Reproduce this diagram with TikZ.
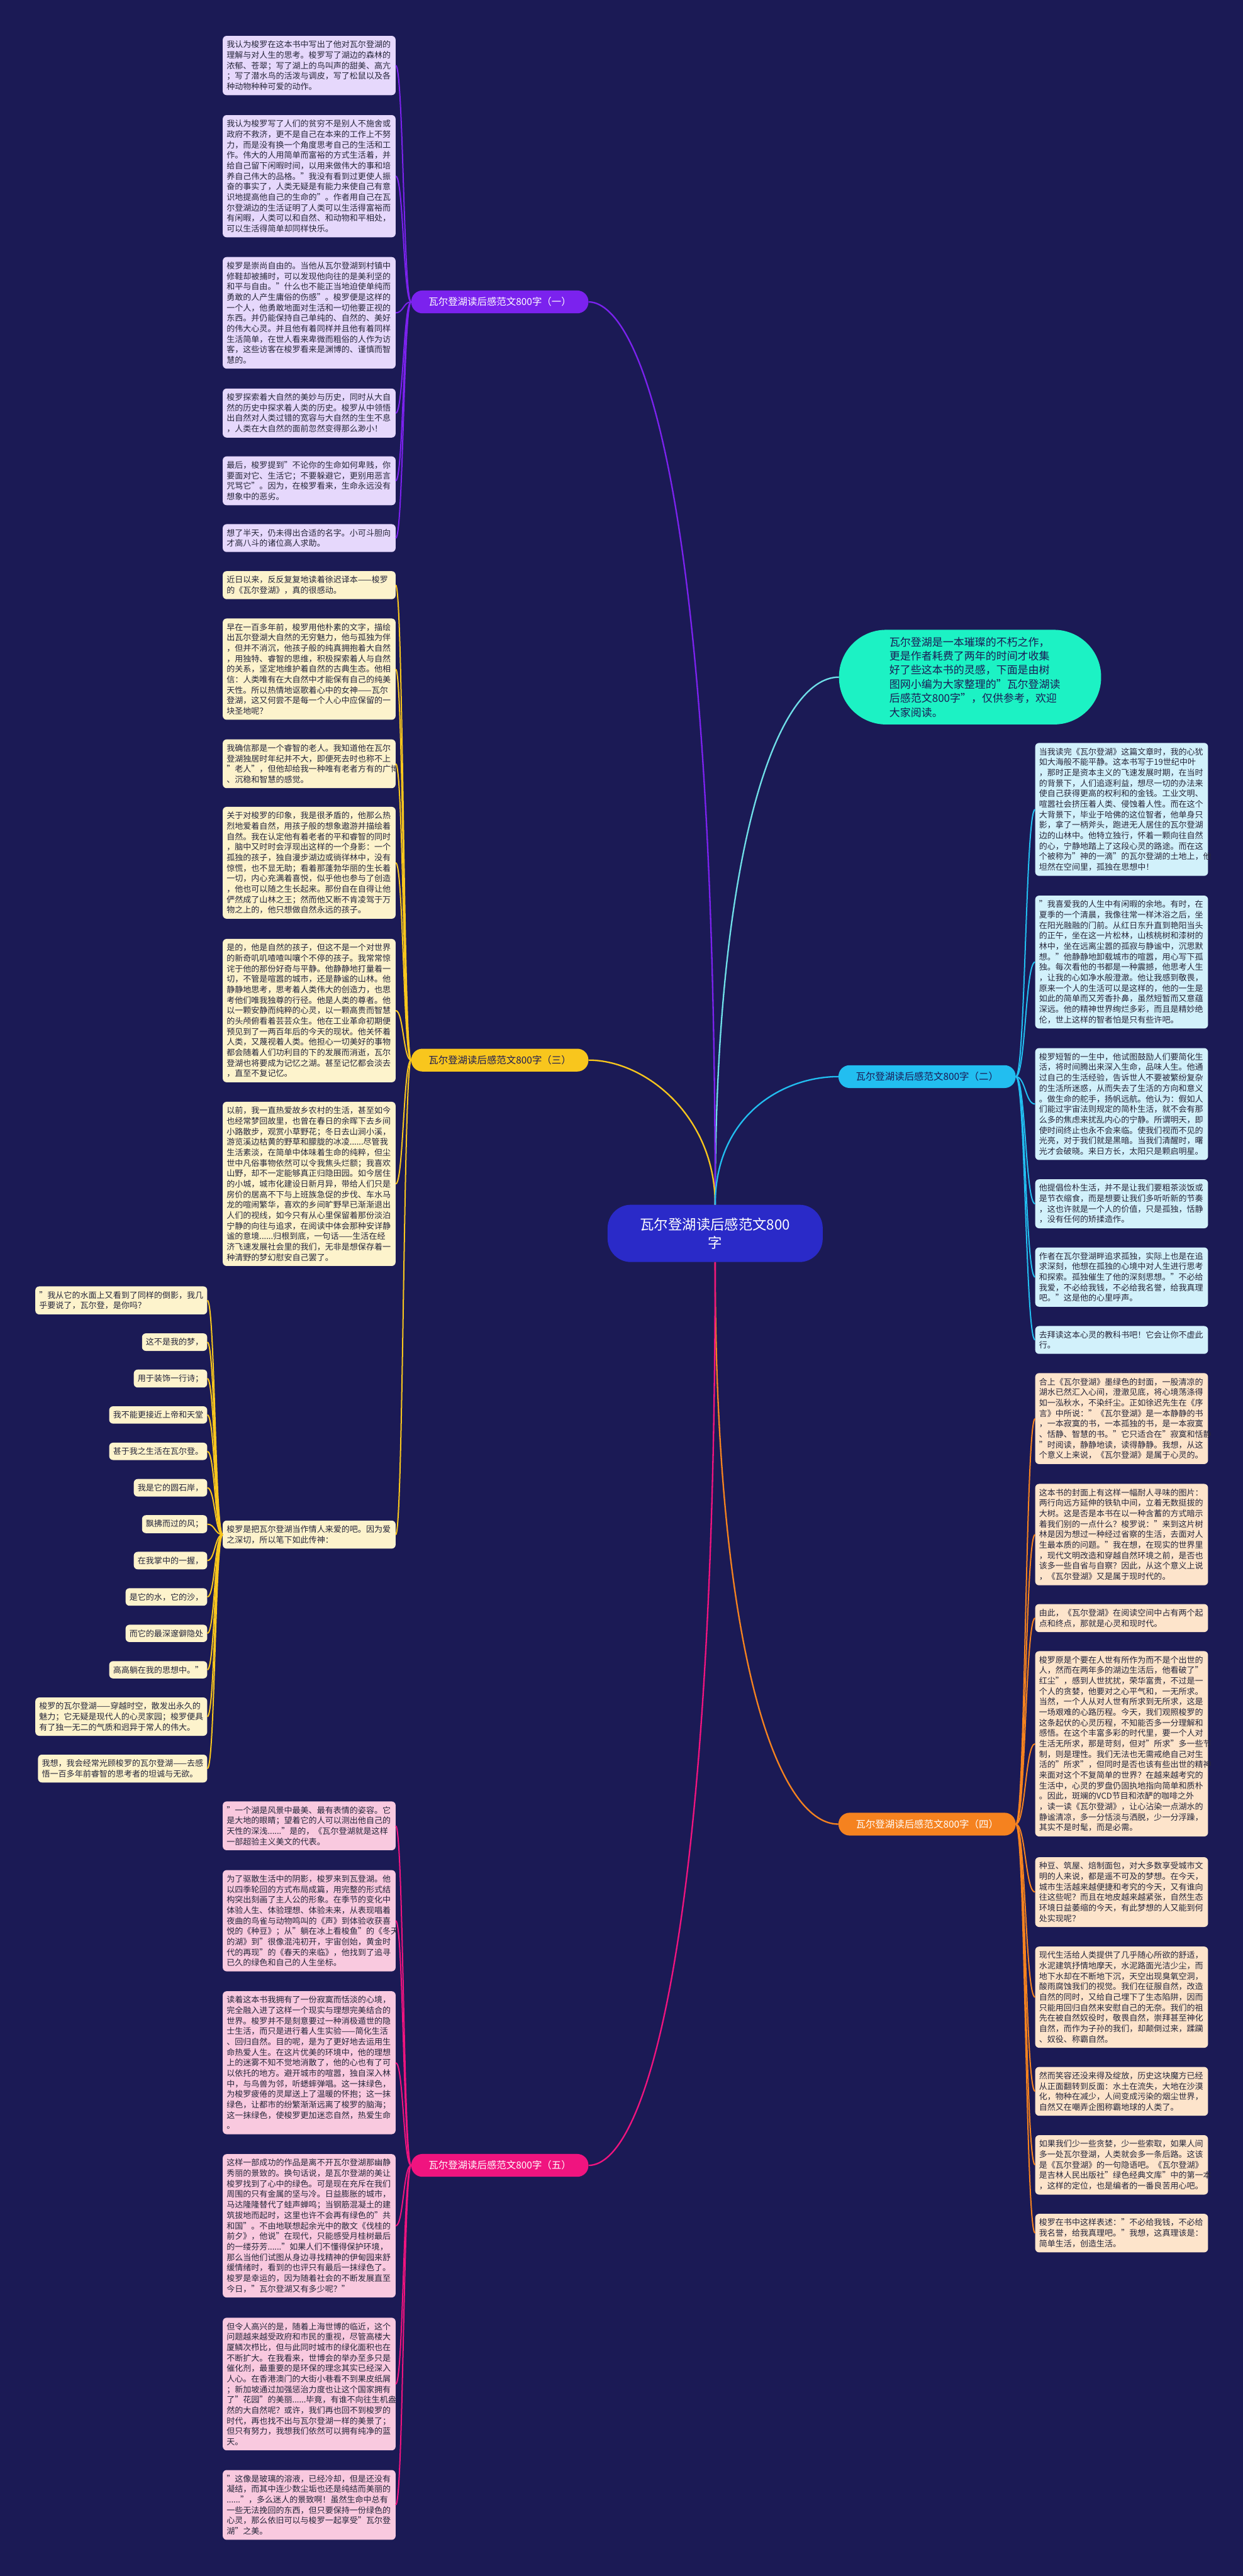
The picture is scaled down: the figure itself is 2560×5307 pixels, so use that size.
\documentclass[tikz,border=0pt]{standalone}
\usepackage{fontspec}
\setmainfont{Noto Sans CJK SC}
\definecolor{navybg}{HTML}{1B1A55}
\definecolor{rootfill}{HTML}{2A2AC8}
\definecolor{introfill}{HTML}{1CF2C4}
\definecolor{introline}{HTML}{6FDFE8}
\definecolor{inkdark}{HTML}{26263A}
\definecolor{purplelab}{HTML}{7B22EE}
\definecolor{purplecard}{HTML}{E6D8FC}
\definecolor{yellowlab}{HTML}{F8C61D}
\definecolor{yellowcard}{HTML}{FDF3CC}
\definecolor{pinklab}{HTML}{F0147F}
\definecolor{pinkcard}{HTML}{F9C9DF}
\definecolor{skylab}{HTML}{22BEF0}
\definecolor{skycard}{HTML}{D2F1FB}
\definecolor{orangelab}{HTML}{F5821F}
\definecolor{orangecard}{HTML}{FDE4CB}

\begin{document}
\begin{tikzpicture}[x=1pt,y=-1pt,
 boxtext/.style={rounded corners=8pt,align=left,inner xsep=8pt,inner ysep=10pt,text=inkdark,font=\fontsize{16.9}{21.6}\selectfont},
 card/.style={boxtext,text width=340pt},
 leaf/.style={boxtext,fill=yellowcard,anchor=east},
 branch/.style={rounded corners=23pt,minimum height=47pt,minimum width=365pt,inner sep=0pt,font=\fontsize{20}{24}\selectfont},
 link/.style={line width=2.6pt},
 trunk/.style={line width=3pt}]
\useasboundingbox (0,0) rectangle (2560,5307);
\fill[navybg] (0,0) rectangle (2560,5307);

% centre and intro
\node[fill=rootfill,text=white,rounded corners=48pt,minimum width=443pt,minimum height=118pt,align=center,font=\fontsize{29}{38}\selectfont] (root) at (1473,2541) {瓦尔登湖读后感范文800\\字};
\node[fill=introfill,text=navybg,rounded corners=97pt,minimum width=540pt,minimum height=195pt,text width=332pt,align=left,font=\fontsize{22}{29}\selectfont] (intro) at (1998,1395) {瓦尔登湖是一本璀璨的不朽之作，\\更是作者耗费了两年的时间才收集\\好了些这本书的灵感，下面是由树\\图网小编为大家整理的"瓦尔登湖读\\后感范文800字"，仅供参考，欢迎\\大家阅读。};

% branch labels
\node[branch,fill=purplelab,text=white] (br1) at (1029.5,622) {瓦尔登湖读后感范文800字（一）};
\node[branch,fill=yellowlab,text=navybg] (br3) at (1029.5,2184) {瓦尔登湖读后感范文800字（三）};
\node[branch,fill=pinklab,text=white] (br5) at (1029.5,4461) {瓦尔登湖读后感范文800字（五）};
\node[branch,fill=skylab,text=navybg] (br2) at (1909.5,2218) {瓦尔登湖读后感范文800字（二）};
\node[branch,fill=orangelab,text=white] (br4) at (1909.5,3758) {瓦尔登湖读后感范文800字（四）};

% branch one
\node[card,fill=purplecard,anchor=east] (c1a) at (815,135) {我认为梭罗在这本书中写出了他对瓦尔登湖的\\理解与对人生的思考。梭罗写了湖边的森林的\\浓郁、苍翠；写了湖上的鸟叫声的甜美、高亢\\；写了潜水鸟的活泼与调皮，写了松鼠以及各\\种动物种种可爱的动作。};
\node[card,fill=purplecard,anchor=east] (c1b) at (815,363) {我认为梭罗写了人们的贫穷不是别人不施舍或\\政府不救济，更不是自己在本来的工作上不努\\力，而是没有换一个角度思考自己的生活和工\\作。伟大的人用简单而富裕的方式生活着，并\\给自己留下闲暇时间，以用来做伟大的事和培\\养自己伟大的品格。"我没有看到过更使人振\\奋的事实了，人类无疑是有能力来使自己有意\\识地提高他自己的生命的"。作者用自己在瓦\\尔登湖边的生活证明了人类可以生活得富裕而\\有闲暇，人类可以和自然、和动物和平相处，\\可以生活得简单却同样快乐。};
\node[card,fill=purplecard,anchor=east] (c1c) at (815,644.5) {梭罗是崇尚自由的。当他从瓦尔登湖到村镇中\\修鞋却被捕时，可以发现他向往的是美利坚的\\和平与自由。"什么也不能正当地迫使单纯而\\勇敢的人产生庸俗的伤感"。梭罗便是这样的\\一个人，他勇敢地面对生活和一切他要正视的\\东西。并仍能保持自己单纯的、自然的、美好\\的伟大心灵。并且他有着同样并且他有着同样\\生活简单，在世人看来卑微而粗俗的人作为访\\客，这些访客在梭罗看来是渊博的、谨慎而智\\慧的。};
\node[card,fill=purplecard,anchor=east] (c1d) at (815,851) {梭罗探索着大自然的美妙与历史，同时从大自\\然的历史中探求着人类的历史。梭罗从中领悟\\出自然对人类过错的宽容与大自然的生生不息\\，人类在大自然的面前忽然变得那么渺小！};
\node[card,fill=purplecard,anchor=east] (c1e) at (815,990.5) {最后，梭罗提到"不论你的生命如何卑贱，你\\要面对它、生活它；不要躲避它，更别用恶言\\咒骂它"。因为，在梭罗看来，生命永远没有\\想象中的恶劣。};
\node[card,fill=purplecard,anchor=east] (c1f) at (815,1108.5) {想了半天，仍未得出合适的名字。小可斗胆向\\才高八斗的诸位高人求助。};

% branch three
\node[card,fill=yellowcard,anchor=east] (c3a) at (815,1205.5) {近日以来，反反复复地读着徐迟译本——梭罗\\的《瓦尔登湖》，真的很感动。};
\node[card,fill=yellowcard,anchor=east] (c3b) at (815,1378.5) {早在一百多年前，梭罗用他朴素的文字，描绘\\出瓦尔登湖大自然的无穷魅力，他与孤独为伴\\，但并不消沉，他孩子般的纯真拥抱着大自然\\，用独特、睿智的思维，积极探索着人与自然\\的关系，坚定地维护着自然的古典生态。他相\\信：人类唯有在大自然中才能保有自己的纯美\\天性。所以热情地讴歌着心中的女神——瓦尔\\登湖，这又何尝不是每一个人心中应保留的一\\块圣地呢？};
\node[card,fill=yellowcard,anchor=east] (c3c) at (815,1573.5) {我确信那是一个睿智的老人。我知道他在瓦尔\\登湖独居时年纪并不大，即便死去时也称不上\\"老人"，但他却给我一种唯有老者方有的广博\\、沉稳和智慧的感觉。};
\node[card,fill=yellowcard,anchor=east] (c3d) at (815,1777.5) {关于对梭罗的印象，我是很矛盾的，他那么热\\烈地爱着自然，用孩子般的想象遨游并描绘着\\自然。我在认定他有着老者的平和睿智的同时\\，脑中又时时会浮现出这样的一个身影：一个\\孤独的孩子，独自漫步湖边或徜徉林中，没有\\惊慌，也不显无助；看着那蓬勃华丽的生长着\\一切，内心充满着喜悦，似乎他也参与了创造\\，他也可以随之生长起来。那份自在自得让他\\俨然成了山林之王；然而他又断不肯凌驾于万\\物之上的，他只想做自然永远的孩子。};
\node[card,fill=yellowcard,anchor=east] (c3e) at (815,2082) {是的，他是自然的孩子，但这不是一个对世界\\的新奇叽叽喳喳叫嚷个不停的孩子。我常常惊\\诧于他的那份好奇与平静。他静静地打量着一\\切，不管是喧嚣的城市，还是静谧的山林。他\\静静地思考，思考着人类伟大的创造力，也思\\考他们唯我独尊的行径。他是人类的尊者。他\\以一颗安静而纯粹的心灵，以一颗高贵而智慧\\的头颅俯看着芸芸众生。他在工业革命初期便\\预见到了一两百年后的今天的现状。他关怀着\\人类，又蔑视着人类。他担心一切美好的事物\\都会随着人们功利目的下的发展而消逝，瓦尔\\登湖也将要成为记忆之湖。甚至记忆都会淡去\\，直至不复记忆。};
\node[card,fill=yellowcard,anchor=east] (c3f) at (815,2439) {以前，我一直热爱故乡农村的生活，甚至如今\\也经常梦回故里，也曾在春日的余晖下去乡间\\小路散步，观赏小草野花；冬日去山涧小溪，\\游览溪边枯黄的野草和朦胧的冰凌......尽管我\\生活素淡，在简单中体味着生命的纯粹，但尘\\世中凡俗事物依然可以令我焦头烂额；我喜欢\\山野，却不一定能够真正归隐田园。如今居住\\的小城，城市化建设日新月异，带给人们只是\\房价的居高不下与上班族急促的步伐、车水马\\龙的喧闹繁华，喜欢的乡间旷野早已渐渐退出\\人们的视线，如今只有从心里保留着那份淡泊\\宁静的向往与追求，在阅读中体会那种安详静\\谧的意境......归根到底，一句话——生活在经\\济飞速发展社会里的我们，无非是想保存着一\\种清野的梦幻慰安自己罢了。};
\node[card,fill=yellowcard,anchor=east] (c3g) at (815,3161.5) {梭罗是把瓦尔登湖当作情人来爱的吧。因为爱\\之深切，所以笔下如此传神：};

% lines of the poem
\node[leaf] (p1) at (427,2679) {"我从它的水面上又看到了同样的倒影，我几\\乎要说了，瓦尔登，是你吗？};
\node[leaf] (p2) at (427,2765) {这不是我的梦，};
\node[leaf] (p3) at (427,2840) {用于装饰一行诗；};
\node[leaf] (p4) at (427,2915) {我不能更接近上帝和天堂};
\node[leaf] (p5) at (427,2990) {甚于我之生活在瓦尔登。};
\node[leaf] (p6) at (427,3065) {我是它的圆石岸，};
\node[leaf] (p7) at (427,3140) {飘拂而过的风；};
\node[leaf] (p8) at (427,3215) {在我掌中的一握，};
\node[leaf] (p9) at (427,3290) {是它的水，它的沙，};
\node[leaf] (p10) at (427,3365) {而它的最深邃僻隐处};
\node[leaf] (p11) at (427,3440) {高高躺在我的思想中。"};
\node[leaf] (p12) at (427,3536.5) {梭罗的瓦尔登湖——穿越时空，散发出永久的\\魅力；它无疑是现代人的心灵家园；梭罗便具\\有了独一无二的气质和迥异于常人的伟大。};
\node[leaf] (p13) at (427,3643.5) {我想，我会经常光顾梭罗的瓦尔登湖——去感\\悟一百多年前睿智的思考者的坦诚与无欲。};

% branch five
\node[card,fill=pinkcard,anchor=east] (c5a) at (815,3761.5) {"一个湖是风景中最美、最有表情的姿容。它\\是大地的眼睛；望着它的人可以测出他自己的\\天性的深浅......"是的，《瓦尔登湖就是这样\\一部超验主义美文的代表。};
\node[card,fill=pinkcard,anchor=east] (c5b) at (815,3957) {为了驱散生活中的阴影，梭罗来到瓦登湖。他\\以四季轮回的方式布局成篇，用完整的形式结\\构突出刻画了主人公的形象。在季节的变化中\\体验人生、体验理想、体验未来，从表现唱着\\夜曲的鸟雀与动物鸣叫的《声》到体验收获喜\\悦的《种豆》；从"躺在冰上看梭鱼"的《冬天\\的湖》到"很像混沌初开，宇宙创始，黄金时\\代的再现"的《春天的来临》，他找到了追寻\\已久的绿色和自己的人生坐标。};
\node[card,fill=pinkcard,anchor=east] (c5c) at (815,4249.5) {读着这本书我拥有了一份寂寞而恬淡的心境，\\完全融入进了这样一个现实与理想完美结合的\\世界。梭罗并不是刻意要过一种消极遁世的隐\\士生活，而只是进行着人生实验——简化生活\\、回归自然。目的呢，是为了更好地去运用生\\命热爱人生。在这片优美的环境中，他的理想\\上的迷雾不知不觉地消散了，他的心也有了可\\以依托的地方。避开城市的喧嚣，独自深入林\\中，与鸟兽为邻，听蟋蟀弹唱。这一抹绿色，\\为梭罗疲倦的灵犀送上了温暖的怀抱；这一抹\\绿色，让都市的纷繁渐渐远离了梭罗的脑海；\\这一抹绿色，使梭罗更加迷恋自然，热爱生命\\。};
\node[card,fill=pinkcard,anchor=east] (c5d) at (815,4585.5) {这样一部成功的作品是离不开瓦尔登湖那幽静\\秀丽的景致的。换句话说，是瓦尔登湖的美让\\梭罗找到了心中的绿色。可是现在充斥在我们\\周围的只有金属的坚与冷。日益膨胀的城市，\\马达隆隆替代了蛙声蝉鸣；当钢筋混凝土的建\\筑拔地而起时，这里也许不会再有绿色的"共\\和国"。不由地联想起余光中的散文《伐桂的\\前夕》，他说"在现代，只能感受月桂树最后\\的一缕芬芳......"如果人们不懂得保护环境，\\那么当他们试图从身边寻找精神的伊甸园来舒\\缓情绪时，看到的也评只有最后一抹绿色了。\\梭罗是幸运的，因为随着社会的不断发展直至\\今日，"瓦尔登湖又有多少呢？"};
\node[card,fill=pinkcard,anchor=east] (c5e) at (815,4911.5) {但令人高兴的是，随着上海世博的临近，这个\\问题越来越受政府和市民的重视，尽管高楼大\\厦鳞次栉比，但与此同时城市的绿化面积也在\\不断扩大。在我看来，世博会的举办至多只是\\催化剂，最重要的是环保的理念其实已经深入\\人心。在香港澳门的大街小巷看不到果皮纸屑\\；新加坡通过加强惩治力度也让这个国家拥有\\了"花园"的美丽......毕竟，有谁不向往生机盎\\然的大自然呢？或许，我们再也回不到梭罗的\\时代，再也找不出与瓦尔登湖一样的美景了；\\但只有努力，我想我们依然可以拥有纯净的蓝\\天。};
\node[card,fill=pinkcard,anchor=east] (c5f) at (815,5160.5) {"这像是玻璃的溶液，已经冷却，但是还没有\\凝结，而其中连少数尘垢也还是纯结而美丽的\\......"，多么迷人的景致啊！虽然生命中总有\\一些无法挽回的东西，但只要保持一份绿色的\\心灵，那么依旧可以与梭罗一起享受"瓦尔登\\湖"之美。};

% branch two
\node[card,fill=skycard,anchor=west] (c2a) at (2132,1667.5) {当我读完《瓦尔登湖》这篇文章时，我的心犹\\如大海般不能平静。这本书写于19世纪中叶\\，那时正是资本主义的飞速发展时期，在当时\\的背景下，人们追逐利益，想尽一切的办法来\\使自己获得更高的权利和的金钱。工业文明、\\喧嚣社会挤压着人类、侵蚀着人性。而在这个\\大背景下，毕业于哈佛的这位智者，他单身只\\影，拿了一柄斧头，跑进无人居住的瓦尔登湖\\边的山林中。他特立独行，怀着一颗向往自然\\的心，宁静地踏上了这段心灵的路途。而在这\\个被称为"神的一滴"的瓦尔登湖的土地上，他\\坦然在空间里，孤独在思想中！};
\node[card,fill=skycard,anchor=west] (c2b) at (2132,1982) {"我喜爱我的人生中有闲暇的余地。有时，在\\夏季的一个清晨，我像往常一样沐浴之后，坐\\在阳光融融的门前。从红日东升直到艳阳当头\\的正午，坐在这一片松林，山核桃树和漆树的\\林中，坐在远离尘嚣的孤寂与静谧中，沉思默\\想。"他静静地卸载城市的喧嚣，用心写下孤\\独。每次看他的书都是一种震撼，他思考人生\\，让我的心如净水般澄澈。他让我感到敬畏，\\原来一个人的生活可以是这样的，他的一生是\\如此的简单而又芳香扑鼻，虽然短暂而又意蕴\\深远。他的精神世界绚烂多彩，而且是精妙绝\\伦，世上这样的智者怕是只有些许吧。};
\node[card,fill=skycard,anchor=west] (c2c) at (2132,2274.5) {梭罗短暂的一生中，他试图鼓励人们要简化生\\活，将时间腾出来深入生命，品味人生。他通\\过自己的生活经验，告诉世人不要被繁纷复杂\\的生活所迷惑，从而失去了生活的方向和意义\\。做生命的舵手，扬帆远航。他认为：假如人\\们能过宇宙法则规定的简朴生活，就不会有那\\么多的焦虑来扰乱内心的宁静。所谓明天，即\\使时间终止也永不会来临。使我们视而不见的\\光亮，对于我们就是黑暗。当我们清醒时，曙\\光才会破晓。来日方长，太阳只是颗启明星。};
\node[card,fill=skycard,anchor=west] (c2d) at (2132,2480) {他提倡俭朴生活，并不是让我们要粗茶淡饭或\\是节衣缩食，而是想要让我们多听听新的节奏\\，这也许就是一个人的价值，只是孤独，恬静\\，没有任何的矫揉造作。};
\node[card,fill=skycard,anchor=west] (c2e) at (2132,2631) {作者在瓦尔登湖畔追求孤独，实际上也是在追\\求深刻，他想在孤独的心境中对人生进行思考\\和探索。孤独催生了他的深刻思想。"不必给\\我爱，不必给我钱，不必给我名誉，给我真理\\吧。"这是他的心里呼声。};
\node[card,fill=skycard,anchor=west] (c2f) at (2132,2760.5) {去拜读这本心灵的教科书吧！它会让你不虚此\\行。};

% branch four
\node[card,fill=orangecard,anchor=west] (c4a) at (2132,2922.5) {合上《瓦尔登湖》墨绿色的封面，一股清凉的\\湖水已然汇入心间，澄澈见底，将心境荡涤得\\如一泓秋水，不染纤尘。正如徐迟先生在《序\\言》中所说："《瓦尔登湖》是一本静静的书\\，一本寂寞的书，一本孤独的书，是一本寂寞\\、恬静、智慧的书。"它只适合在"寂寞和恬静\\"时阅读，静静地读，读得静静。我想，从这\\个意义上来说，《瓦尔登湖》是属于心灵的。};
\node[card,fill=orangecard,anchor=west] (c4b) at (2132,3161.5) {这本书的封面上有这样一幅耐人寻味的图片：\\两行向远方延伸的铁轨中间，立着无数挺拔的\\大树。这是否是本书在以一种含蓄的方式暗示\\着我们别的一点什么？梭罗说："来到这片树\\林是因为想过一种经过省察的生活，去面对人\\生最本质的问题。"我在想，在现实的世界里\\，现代文明改造和穿越自然环境之前，是否也\\该多一些自省与自察？因此，从这个意义上说\\，《瓦尔登湖》又是属于现时代的。};
\node[card,fill=orangecard,anchor=west] (c4c) at (2132,3333.5) {由此，《瓦尔登湖》在阅读空间中占有两个起\\点和终点，那就是心灵和现时代。};
\node[card,fill=orangecard,anchor=west] (c4d) at (2132,3592.5) {梭罗原是个要在人世有所作为而不是个出世的\\人，然而在两年多的湖边生活后，他看破了"\\红尘"，感到人世扰扰，荣华富贵，不过是一\\个人的贪婪，他要对之心平气和，一无所求。\\当然，一个人从对人世有所求到无所求，这是\\一场艰难的心路历程。今天，我们观照梭罗的\\这条起伏的心灵历程，不知能否多一分理解和\\感悟。在这个丰富多彩的时代里，要一个人对\\生活无所求，那是苛刻，但对"所求"多一些节\\制，则是理性。我们无法也无需戒绝自己对生\\活的"所求"，但同时是否也该有些出世的精神\\来面对这个不复简单的世界？在越来越考究的\\生活中，心灵的罗盘仍固执地指向简单和质朴\\。因此，斑斓的VCD节目和浓酽的咖啡之外\\，读一读《瓦尔登湖》，让心沾染一点湖水的\\静谧清凉，多一分恬淡与洒脱，少一分浮躁，\\其实不是时髦，而是必需。};
\node[card,fill=orangecard,anchor=west] (c4e) at (2132,3898) {种豆、筑屋、焙制面包，对大多数享受城市文\\明的人来说，都是遥不可及的梦想。在今天，\\城市生活越来越便捷和考究的今天，又有谁向\\往这些呢？而且在地皮越来越紧张，自然生态\\环境日益萎缩的今天，有此梦想的人又能到何\\处实现呢？};
\node[card,fill=orangecard,anchor=west] (c4f) at (2132,4114.5) {现代生活给人类提供了几乎随心所欲的舒适，\\水泥建筑抒情地摩天，水泥路面光洁少尘，而\\地下水却在不断地下沉，天空出现臭氧空洞，\\酸雨腐蚀我们的视觉。我们在征服自然，改造\\自然的同时，又给自己埋下了生态陷阱，因而\\只能用回归自然来安慰自己的无奈。我们的祖\\先在被自然奴役时，敬畏自然，崇拜甚至神化\\自然，而作为子孙的我们，却颠倒过来，蹂躏\\、奴役、称霸自然。};
\node[card,fill=orangecard,anchor=west] (c4g) at (2132,4308.5) {然而笑容还没来得及绽放，历史这块魔方已经\\从正面翻转到反面：水土在流失，大地在沙漠\\化，物种在减少，人间变成污染的烟尘世界，\\自然又在嘲弄企图称霸地球的人类了。};
\node[card,fill=orangecard,anchor=west] (c4h) at (2132,4460) {如果我们少一些贪婪，少一些索取，如果人间\\多一处瓦尔登湖，人类就会多一条后路。这该\\是《瓦尔登湖》的一句隐语吧。《瓦尔登湖》\\是吉林人民出版社"绿色经典文库"中的第一本\\，这样的定位，也是编者的一番良苦用心吧。};
\node[card,fill=orangecard,anchor=west] (c4i) at (2132,4600.5) {梭罗在书中这样表述："不必给我钱，不必给\\我名誉，给我真理吧。"我想，这真理该是：\\简单生活，创造生活。};

% trunk curves from the centre
\draw[trunk,introline] (root.north) .. controls (1473,1750) and (1600,1395) .. (intro.west);
\draw[trunk,purplelab] (root.north) .. controls (1473,900) and (1300,622) .. (br1.east);
\draw[trunk,yellowlab] (root.north) .. controls (1473,2300) and (1330,2184) .. (br3.east);
\draw[trunk,skylab] (root.north) .. controls (1473,2300) and (1610,2218) .. (br2.west);
\draw[trunk,orangelab] (root.south) .. controls (1473,3400) and (1600,3758) .. (br4.west);
\draw[trunk,pinklab] (root.south) .. controls (1473,4000) and (1330,4461) .. (br5.east);

% branch to card links
\foreach \c in {c1a,c1b,c1c,c1d,c1e,c1f}
  \draw[link,purplelab] (br1.west) .. controls +(-16,0) and +(16,0) .. (\c.east);
\foreach \c in {c3a,c3b,c3c,c3d,c3e,c3f,c3g}
  \draw[link,yellowlab] (br3.west) .. controls +(-16,0) and +(16,0) .. (\c.east);
\foreach \c in {p1,p2,p3,p4,p5,p6,p7,p8,p9,p10,p11,p12,p13}
  \draw[link,yellowlab] (c3g.west) .. controls +(-16,0) and +(16,0) .. (\c.east);
\foreach \c in {c5a,c5b,c5c,c5d,c5e,c5f}
  \draw[link,pinklab] (br5.west) .. controls +(-16,0) and +(16,0) .. (\c.east);
\foreach \c in {c2a,c2b,c2c,c2d,c2e,c2f}
  \draw[link,skylab] (br2.east) .. controls +(20,0) and +(-20,0) .. (\c.west);
\foreach \c in {c4a,c4b,c4c,c4d,c4e,c4f,c4g,c4h,c4i}
  \draw[link,orangelab] (br4.east) .. controls +(20,0) and +(-20,0) .. (\c.west);
\end{tikzpicture}
\end{document}
